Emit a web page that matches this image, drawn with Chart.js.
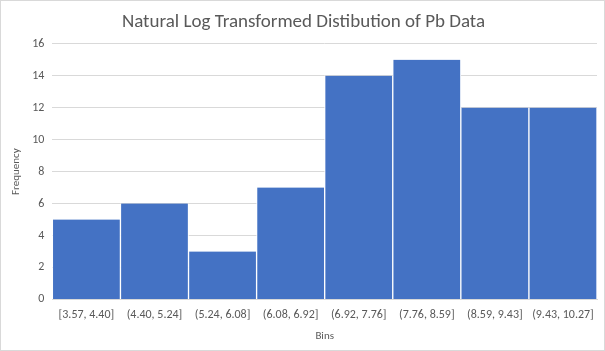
<!DOCTYPE html>
<html>
<head>
<meta charset="utf-8">
<script src="https://cdn.jsdelivr.net/npm/chart.js@4"></script>
<style>
  html, body { margin: 0; padding: 0; background: #fff; }
  #wrap { position: relative; width: 603px; height: 349px; border: 1px solid #d9d9d9; }
</style>
</head>
<body>
<div id="wrap"><canvas id="chart" width="603" height="349"></canvas></div>
<script>
var bins = ['[3.57, 4.40]', '(4.40, 5.24]', '(5.24, 6.08]', '(6.08, 6.92]',
            '(6.92, 7.76]', '(7.76, 8.59]', '(8.59, 9.43]', '(9.43, 10.27]'];
var frequency = [5, 6, 3, 7, 14, 15, 12, 12];
var yTicks = [0, 2, 4, 6, 8, 10, 12, 14, 16];

var textColor = '#595959';
var gridColor = '#d9d9d9';
var fontFamily = 'Calibri, Carlito, "Open Sans", sans-serif';

var c = document.getElementById('chart');
var chart = new Chart(c.getContext('2d'), {
    type: 'bar',
    data: {
        labels: bins,
        datasets: [
            {
                data: frequency,
                backgroundColor: '#4472c4',
                borderColor: '#ffffff',
                borderWidth: { left: 1, right: 1, top: 0, bottom: 0 },
                barPercentage: 1,
                categoryPercentage: 1
            }
        ]
    },
    options: {
        responsive: false,
        animation: false,
        layout: { padding: { left: 9, right: 7, top: 6, bottom: 1 } },
        plugins: {
            legend: { display: false },
            tooltip: { enabled: false },
            title: {
                display: true,
                text: 'Natural Log Transformed Distibution of Pb Data',
                color: textColor,
                font: { family: fontFamily, size: 19, weight: 'normal' },
                padding: { top: 4, bottom: 10 }
            }
        },
        scales: {
            x: {
                grid: { display: false, drawTicks: false },
                border: { display: true, color: gridColor },
                ticks: {
                    color: textColor,
                    font: { family: fontFamily, size: 12 },
                    maxRotation: 0,
                    autoSkip: false,
                    padding: 8
                },
                title: {
                    display: true,
                    text: 'Bins',
                    color: textColor,
                    font: { family: fontFamily, size: 11 },
                    padding: { top: 0, bottom: 6 }
                }
            },
            y: {
                min: 0,
                max: 16,
                afterBuildTicks: function (axis) {
                    axis.ticks = yTicks.map(function (v) { return { value: v }; });
                },
                grid: { color: gridColor, drawTicks: false },
                border: { display: false },
                ticks: {
                    color: textColor,
                    font: { family: fontFamily, size: 12 },
                    padding: 8
                },
                title: {
                    display: true,
                    text: 'Frequency',
                    color: textColor,
                    font: { family: fontFamily, size: 11 },
                    padding: { top: 0, bottom: 1 }
                }
            }
        }
    }
});
</script>
</body>
</html>
